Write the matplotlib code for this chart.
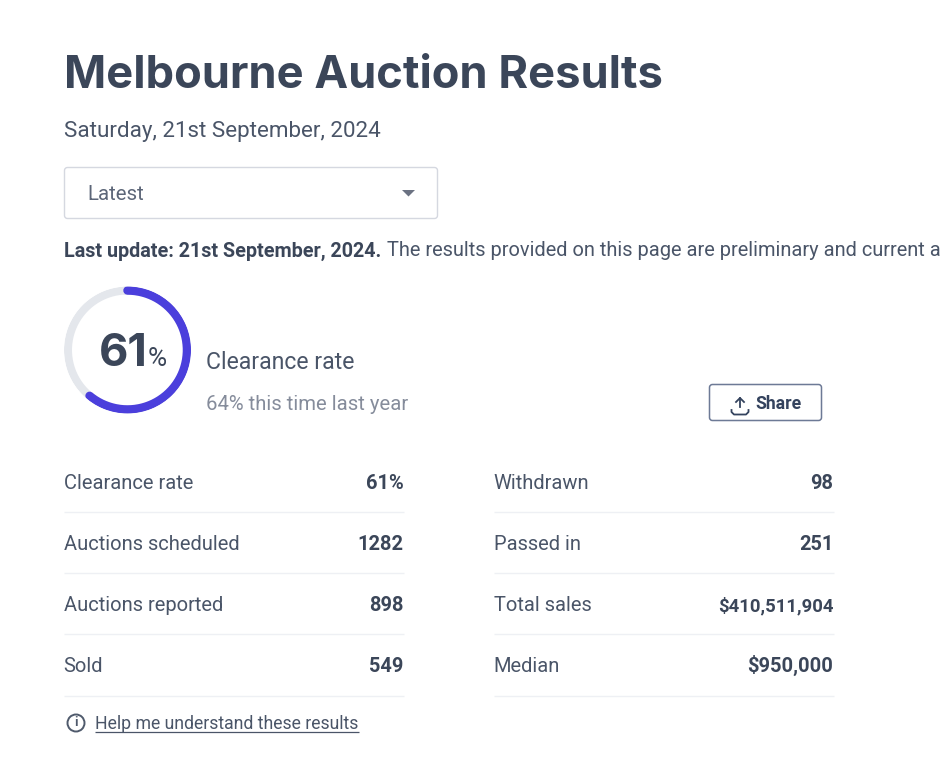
import numpy as np
import matplotlib
matplotlib.use("Agg")
import matplotlib.pyplot as plt
from matplotlib.patches import FancyBboxPatch, Circle

# ---- data ----
title = "Melbourne Auction Results"
subtitle = "Saturday, 21st September, 2024"
dropdown = "Latest"
update_bold = "Last update: 21st September, 2024."
update_text = "The results provided on this page are preliminary and current a"
rate = 61
rate_last_year = 64
left_labels = ["Clearance rate", "Auctions scheduled", "Auctions reported", "Sold"]
left_values = ["61%", "1282", "898", "549"]
right_labels = ["Withdrawn", "Passed in", "Total sales", "Median"]
right_values = ["98", "251", "$410,511,904", "$950,000"]
help_text = "Help me understand these results"

# ---- style ----
DARK = "#3b4659"
MID = "#4a5568"
GREY = "#858c9b"
RING = "#4b3fdc"
TRACK = "#e4e7ec"
RULE = "#eef0f4"
TITLE_FONT = "Inter"
FONT = "Roboto"
VALUE_WIDTHS = {"$410,511,904": 115, "$950,000": 85}

W, H = 942, 778
fig = plt.figure(figsize=(W / 100, H / 100), dpi=100, facecolor="white")
ax = fig.add_axes([0, 0, 1, 1])
ax.set_xlim(0, W)
ax.set_ylim(H, 0)
ax.axis("off")
renderer = fig.canvas.get_renderer()


def px(size):
    return size * 0.72


def txt(x, y, s, size, color=MID, weight="normal", ha="left", va="baseline",
        family=FONT, width=None, **kw):
    t = ax.text(x, y, s, fontsize=px(size), color=color, fontweight=weight,
                ha=ha, va=va, family=family, **kw)
    if width is not None:
        w = t.get_window_extent(renderer).width
        t.set_fontsize(t.get_fontsize() * width / w)
    return t


txt(64, 88, title, 45, DARK, "bold", family=TITLE_FONT, width=598)
txt(64, 137, subtitle, 21.5, MID, width=316)

ax.add_patch(FancyBboxPatch((64.5, 167.5), 373, 51, boxstyle="round,pad=0,rounding_size=3",
                            fc="white", ec="#d5d8e0", lw=1))
txt(87, 200, dropdown, 19.5, "#5c6678", width=57)
ax.fill([402, 415, 408.5], [190, 190, 196.5], color="#6b7282", lw=0)

txt(64, 256.5, update_bold, 17.6, DARK, "bold", width=319)
txt(387, 256.5, update_text, 18.4, MID, width=553)

# ring
cx, cy, ro = 127.5, 350, 63.5
ra = fig.add_axes([(cx - ro) / W, 1 - (cy + ro) / H, 2 * ro / W, 2 * ro / H], projection="polar")
ra.set_theta_zero_location("N")
ra.set_theta_direction(-1)
ra.set_ylim(0, 1)
ra.axis("off")
ra.patch.set_alpha(0)
rmid = 59.5 / 63.5
full = np.linspace(0, 2 * np.pi, 361)
ra.plot(full, np.full_like(full, rmid), color=TRACK, lw=px(8))
arc = np.linspace(0, 2 * np.pi * rate / 100, 240)
ra.plot(arc, np.full_like(arc, rmid), color=RING, lw=px(8.5), solid_capstyle="round")

txt(99, 365.5, str(rate), 47, DARK, "bold", family=TITLE_FONT, width=49)
txt(148, 365.5, "%", 20, DARK, width=19)

txt(206, 369, "Clearance rate", 21.5, MID, width=148)
txt(206, 410, f"{rate_last_year}% this time last year", 19.5, GREY, width=203)

# share button
ax.add_patch(FancyBboxPatch((709.5, 384.5), 112, 36, boxstyle="round,pad=0,rounding_size=3",
                            fc="white", ec="#6d7a96", lw=1.1))
txt(755, 408.5, "Share", 17.5, "#34435e", "bold", width=46)
ax.plot([740, 740], [407, 398], color="#34435e", lw=1.3)
ax.plot([736, 740, 744], [402, 398, 402], color="#34435e", lw=1.3)
ax.plot([731.5, 731.5, 734, 746, 748.5, 748.5], [410, 412, 414.5, 414.5, 412, 410], color="#34435e", lw=1.3)

# tables
ys = [489, 550, 611, 672]
rules = [512, 573, 634, 695.5]
for x0, x1, labels, values in [(64, 404, left_labels, left_values), (494, 834, right_labels, right_values)]:
    for y, r, lab, val in zip(ys, rules, labels, values):
        txt(x0 - 0.5, y, lab, 20.1, MID)
        txt(x1 - 0.5, y, val, 20, DARK, "bold", ha="right", width=VALUE_WIDTHS.get(val))
        ax.plot([x0, x1], [r, r], color=RULE, lw=1, solid_capstyle="butt")

# help
ax.add_patch(Circle((76, 723), 8.5, fc="none", ec="#4f5a6c", lw=1.4))
ax.text(76, 723, "i", fontsize=px(13), color="#4f5a6c", ha="center", va="center", family=FONT, fontweight="bold")
txt(95, 729, help_text, 17.5, MID, width=264)
ax.plot([95, 359], [731.5, 731.5], color=MID, lw=0.9, solid_capstyle="butt")

fig.savefig("out.png", dpi=100, facecolor="white")
